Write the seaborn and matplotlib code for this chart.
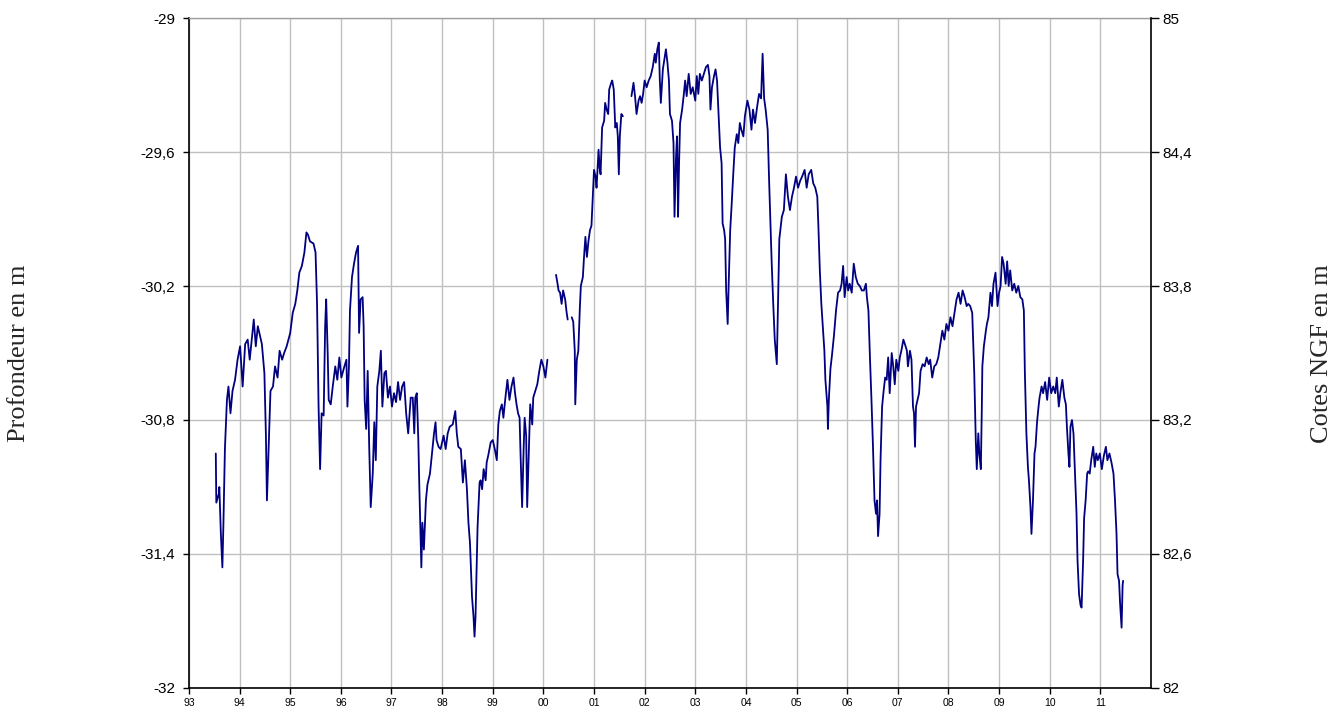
import pandas as pd
import numpy as np
import matplotlib
matplotlib.use('Agg')
import matplotlib.pyplot as plt
import seaborn as sns

# Piezometre : profondeur de la nappe (m), lue sur le graphique d'origine
# troncon 1 : mi-1993 -> debut 2000
annees_1 = [1993.53, 1993.54, 1993.59, 1993.60, 1993.63, 1993.66, 1993.68, 1993.71, 1993.75, 1993.78,
            1993.82, 1993.86, 1993.91, 1993.96, 1994.01, 1994.06, 1994.11, 1994.16, 1994.20, 1994.24,
            1994.28, 1994.32, 1994.36, 1994.39, 1994.44, 1994.49, 1994.52, 1994.54, 1994.57, 1994.61,
            1994.66, 1994.70, 1994.75, 1994.79, 1994.84, 1994.88, 1994.93, 1995.00, 1995.05, 1995.10,
            1995.14, 1995.18, 1995.23, 1995.28, 1995.32, 1995.35, 1995.39, 1995.46, 1995.50, 1995.53,
            1995.56, 1995.59, 1995.62, 1995.66, 1995.69, 1995.71, 1995.74, 1995.76, 1995.80, 1995.84,
            1995.89, 1995.93, 1995.97, 1996.01, 1996.07, 1996.11, 1996.13, 1996.16, 1996.18, 1996.22,
            1996.26, 1996.30, 1996.34, 1996.36, 1996.39, 1996.43, 1996.45, 1996.47, 1996.50, 1996.53,
            1996.56, 1996.59, 1996.63, 1996.66, 1996.69, 1996.72, 1996.76, 1996.79, 1996.82, 1996.86,
            1996.89, 1996.93, 1996.97, 1997.01, 1997.05, 1997.09, 1997.13, 1997.17, 1997.21, 1997.25,
            1997.29, 1997.33, 1997.38, 1997.42, 1997.45, 1997.47, 1997.50, 1997.53, 1997.55, 1997.59,
            1997.61, 1997.64, 1997.68, 1997.71, 1997.76, 1997.80, 1997.84, 1997.87, 1997.89, 1997.93,
            1997.97, 1998.03, 1998.07, 1998.11, 1998.15, 1998.21, 1998.26, 1998.29, 1998.32, 1998.37,
            1998.41, 1998.45, 1998.49, 1998.52, 1998.55, 1998.59, 1998.62, 1998.64, 1998.66, 1998.70,
            1998.74, 1998.76, 1998.79, 1998.82, 1998.86, 1998.88, 1998.91, 1998.96, 1999.00, 1999.04,
            1999.08, 1999.11, 1999.14, 1999.18, 1999.21, 1999.25, 1999.29, 1999.33, 1999.37, 1999.41,
            1999.44, 1999.47, 1999.50, 1999.53, 1999.55, 1999.58, 1999.61, 1999.63, 1999.66, 1999.68,
            1999.71, 1999.74, 1999.78, 1999.80, 1999.84, 1999.88, 1999.92, 1999.96, 2000.00, 2000.04,
            2000.08]
prof_1 = [-30.95, -31.17, -31.13, -31.10, -31.31, -31.46, -31.27, -30.93, -30.71, -30.65,
          -30.77, -30.67, -30.62, -30.53, -30.47, -30.65, -30.46, -30.44, -30.53, -30.44,
          -30.35, -30.47, -30.38, -30.41, -30.46, -30.59, -30.87, -31.16, -30.95, -30.67,
          -30.65, -30.56, -30.61, -30.49, -30.53, -30.50, -30.47, -30.41, -30.32, -30.28,
          -30.22, -30.14, -30.11, -30.05, -29.96, -29.97, -30.00, -30.01, -30.05, -30.28,
          -30.74, -31.02, -30.77, -30.78, -30.38, -30.26, -30.50, -30.71, -30.73, -30.65,
          -30.56, -30.62, -30.52, -30.61, -30.56, -30.53, -30.74, -30.56, -30.31, -30.16,
          -30.10, -30.05, -30.02, -30.41, -30.26, -30.25, -30.38, -30.71, -30.84, -30.58,
          -30.92, -31.19, -31.04, -30.81, -30.98, -30.65, -30.58, -30.49, -30.74, -30.59,
          -30.58, -30.70, -30.65, -30.74, -30.68, -30.72, -30.63, -30.71, -30.65, -30.63,
          -30.77, -30.86, -30.70, -30.70, -30.86, -30.70, -30.68, -30.89, -31.10, -31.46,
          -31.26, -31.38, -31.16, -31.09, -31.04, -30.95, -30.86, -30.81, -30.89, -30.92,
          -30.93, -30.87, -30.93, -30.86, -30.83, -30.82, -30.76, -30.86, -30.92, -30.93,
          -31.08, -30.98, -31.11, -31.26, -31.35, -31.59, -31.68, -31.77, -31.68, -31.28,
          -31.08, -31.07, -31.11, -31.02, -31.07, -30.99, -30.96, -30.90, -30.89, -30.93,
          -30.98, -30.82, -30.76, -30.73, -30.79, -30.70, -30.62, -30.71, -30.65, -30.61,
          -30.68, -30.73, -30.77, -30.79, -30.96, -31.19, -30.93, -30.79, -30.87, -31.19,
          -30.96, -30.73, -30.82, -30.70, -30.67, -30.64, -30.58, -30.53, -30.56, -30.61,
          -30.53]

# troncon 2 : printemps 2000
annees_2 = [2000.25, 2000.28, 2000.30, 2000.33, 2000.36, 2000.39, 2000.43, 2000.46, 2000.48]
prof_2 = [-30.15, -30.19, -30.22, -30.23, -30.28, -30.22, -30.26, -30.32, -30.35]

# troncon 3 : ete 2000 -> mi-2001
annees_3 = [2000.56, 2000.59, 2000.62, 2000.63, 2000.66, 2000.69, 2000.72, 2000.74, 2000.78, 2000.80,
            2000.83, 2000.86, 2000.89, 2000.92, 2000.95, 2000.97, 2001.00, 2001.03, 2001.05, 2001.09,
            2001.11, 2001.13, 2001.16, 2001.20, 2001.22, 2001.25, 2001.28, 2001.30, 2001.34, 2001.36,
            2001.39, 2001.42, 2001.45, 2001.47, 2001.49, 2001.51, 2001.54, 2001.57]
prof_3 = [-30.34, -30.36, -30.49, -30.73, -30.53, -30.49, -30.30, -30.20, -30.16, -30.08,
          -29.98, -30.07, -30.00, -29.95, -29.93, -29.83, -29.68, -29.71, -29.76, -29.59,
          -29.67, -29.70, -29.49, -29.46, -29.38, -29.41, -29.43, -29.32, -29.29, -29.28,
          -29.32, -29.49, -29.47, -29.53, -29.70, -29.53, -29.43, -29.44]

# troncon 4 : fin 2001 -> mi-2011
annees_4 = [2001.74, 2001.78, 2001.81, 2001.84, 2001.88, 2001.91, 2001.94, 2001.97, 2002.00, 2002.04,
            2002.08, 2002.12, 2002.16, 2002.20, 2002.22, 2002.25, 2002.28, 2002.30, 2002.32, 2002.36,
            2002.40, 2002.42, 2002.45, 2002.48, 2002.50, 2002.54, 2002.57, 2002.59, 2002.62, 2002.64,
            2002.66, 2002.68, 2002.70, 2002.74, 2002.77, 2002.80, 2002.83, 2002.87, 2002.91, 2002.95,
            2003.00, 2003.03, 2003.06, 2003.09, 2003.13, 2003.17, 2003.21, 2003.25, 2003.28, 2003.30,
            2003.33, 2003.37, 2003.40, 2003.43, 2003.46, 2003.49, 2003.52, 2003.54, 2003.57, 2003.59,
            2003.61, 2003.64, 2003.66, 2003.69, 2003.72, 2003.75, 2003.78, 2003.82, 2003.85, 2003.88,
            2003.91, 2003.95, 2003.98, 2004.03, 2004.07, 2004.11, 2004.14, 2004.18, 2004.22, 2004.26,
            2004.30, 2004.33, 2004.36, 2004.39, 2004.43, 2004.46, 2004.49, 2004.51, 2004.54, 2004.57,
            2004.61, 2004.63, 2004.66, 2004.68, 2004.71, 2004.75, 2004.79, 2004.83, 2004.87, 2004.91,
            2004.95, 2004.99, 2005.03, 2005.07, 2005.11, 2005.16, 2005.20, 2005.24, 2005.29, 2005.33,
            2005.37, 2005.41, 2005.43, 2005.46, 2005.49, 2005.51, 2005.55, 2005.57, 2005.61, 2005.62,
            2005.64, 2005.67, 2005.70, 2005.74, 2005.78, 2005.82, 2005.86, 2005.89, 2005.92, 2005.95,
            2005.99, 2006.02, 2006.05, 2006.09, 2006.13, 2006.17, 2006.21, 2006.25, 2006.29, 2006.33,
            2006.37, 2006.39, 2006.42, 2006.45, 2006.48, 2006.51, 2006.54, 2006.57, 2006.59, 2006.61,
            2006.64, 2006.66, 2006.69, 2006.72, 2006.75, 2006.78, 2006.81, 2006.84, 2006.88, 2006.91,
            2006.94, 2006.97, 2007.01, 2007.04, 2007.07, 2007.11, 2007.14, 2007.18, 2007.20, 2007.24,
            2007.27, 2007.30, 2007.32, 2007.34, 2007.36, 2007.39, 2007.42, 2007.45, 2007.49, 2007.53,
            2007.57, 2007.61, 2007.64, 2007.68, 2007.72, 2007.76, 2007.80, 2007.84, 2007.88, 2007.92,
            2007.96, 2008.00, 2008.04, 2008.08, 2008.12, 2008.16, 2008.20, 2008.24, 2008.28, 2008.32,
            2008.36, 2008.39, 2008.43, 2008.47, 2008.51, 2008.54, 2008.56, 2008.59, 2008.61, 2008.64,
            2008.66, 2008.67, 2008.70, 2008.74, 2008.76, 2008.79, 2008.83, 2008.86, 2008.89, 2008.93,
            2008.97, 2009.00, 2009.03, 2009.06, 2009.09, 2009.13, 2009.16, 2009.19, 2009.22, 2009.26,
            2009.30, 2009.34, 2009.38, 2009.42, 2009.46, 2009.49, 2009.51, 2009.54, 2009.57, 2009.59,
            2009.62, 2009.64, 2009.67, 2009.70, 2009.72, 2009.75, 2009.78, 2009.80, 2009.84, 2009.87,
            2009.91, 2009.95, 2009.99, 2010.03, 2010.07, 2010.11, 2010.14, 2010.18, 2010.21, 2010.25,
            2010.29, 2010.32, 2010.34, 2010.37, 2010.39, 2010.41, 2010.44, 2010.47, 2010.50, 2010.53,
            2010.55, 2010.58, 2010.61, 2010.63, 2010.66, 2010.68, 2010.71, 2010.74, 2010.76, 2010.79,
            2010.82, 2010.86, 2010.89, 2010.92, 2010.95, 2010.99, 2011.03, 2011.07, 2011.11, 2011.14,
            2011.18, 2011.22, 2011.26, 2011.29, 2011.32, 2011.34, 2011.37, 2011.39, 2011.42, 2011.44,
            2011.45]
prof_4 = [-29.35, -29.29, -29.35, -29.43, -29.37, -29.35, -29.38, -29.34, -29.28, -29.31,
          -29.28, -29.26, -29.22, -29.16, -29.20, -29.14, -29.11, -29.28, -29.38, -29.23,
          -29.17, -29.14, -29.20, -29.28, -29.43, -29.46, -29.56, -29.89, -29.62, -29.53,
          -29.89, -29.65, -29.47, -29.41, -29.35, -29.28, -29.35, -29.25, -29.34, -29.31,
          -29.37, -29.26, -29.34, -29.25, -29.28, -29.25, -29.22, -29.21, -29.26, -29.41,
          -29.31, -29.26, -29.23, -29.28, -29.43, -29.58, -29.65, -29.92, -29.95, -29.99,
          -30.22, -30.37, -30.19, -29.95, -29.83, -29.70, -29.58, -29.52, -29.56, -29.47,
          -29.50, -29.53, -29.44, -29.37, -29.41, -29.50, -29.41, -29.47, -29.40, -29.34,
          -29.36, -29.16, -29.36, -29.41, -29.50, -29.74, -29.95, -30.10, -30.28, -30.44,
          -30.55, -30.32, -29.99, -29.95, -29.89, -29.86, -29.70, -29.80, -29.86, -29.80,
          -29.76, -29.71, -29.76, -29.73, -29.71, -29.68, -29.76, -29.70, -29.68, -29.74,
          -29.76, -29.80, -29.92, -30.13, -30.28, -30.35, -30.49, -30.62, -30.74, -30.84,
          -30.70, -30.57, -30.51, -30.42, -30.31, -30.23, -30.22, -30.19, -30.11, -30.25,
          -30.16, -30.22, -30.19, -30.23, -30.10, -30.16, -30.19, -30.20, -30.22, -30.22,
          -30.19, -30.25, -30.31, -30.52, -30.71, -30.92, -31.16, -31.22, -31.16, -31.32,
          -31.22, -30.97, -30.74, -30.67, -30.61, -30.62, -30.52, -30.68, -30.50, -30.56,
          -30.64, -30.53, -30.58, -30.52, -30.49, -30.44, -30.46, -30.49, -30.56, -30.49,
          -30.53, -30.74, -30.77, -30.92, -30.74, -30.71, -30.68, -30.58, -30.55, -30.56,
          -30.52, -30.55, -30.53, -30.61, -30.56, -30.55, -30.52, -30.46, -30.40, -30.44,
          -30.37, -30.40, -30.34, -30.38, -30.32, -30.26, -30.23, -30.28, -30.22, -30.25,
          -30.29, -30.28, -30.29, -30.32, -30.59, -30.89, -31.02, -30.86, -30.95, -31.02,
          -30.74, -30.56, -30.47, -30.40, -30.37, -30.34, -30.23, -30.29, -30.19, -30.14,
          -30.29, -30.23, -30.20, -30.07, -30.10, -30.19, -30.09, -30.20, -30.13, -30.22,
          -30.19, -30.23, -30.20, -30.25, -30.26, -30.31, -30.59, -30.86, -31.01, -31.07,
          -31.19, -31.31, -31.16, -30.95, -30.92, -30.81, -30.74, -30.70, -30.65, -30.68,
          -30.63, -30.71, -30.61, -30.68, -30.65, -30.68, -30.61, -30.74, -30.68, -30.62,
          -30.70, -30.73, -30.83, -30.95, -31.01, -30.83, -30.80, -30.86, -31.04, -31.22,
          -31.43, -31.58, -31.63, -31.64, -31.43, -31.24, -31.16, -31.04, -31.03, -31.04,
          -30.98, -30.92, -31.01, -30.95, -30.98, -30.95, -31.02, -30.96, -30.92, -30.98,
          -30.95, -30.99, -31.04, -31.16, -31.31, -31.49, -31.52, -31.62, -31.73, -31.54,
          -31.52]

# axes
annees_ticks = list(range(1993, 2012))
annees_labels = ['93', '94', '95', '96', '97', '98', '99', '00', '01', '02',
                 '03', '04', '05', '06', '07', '08', '09', '10', '11']
prof_ticks = [-32, -31.4, -30.8, -30.2, -29.6, -29]
prof_labels = ['-32', '-31,4', '-30,8', '-30,2', '-29,6', '-29']
cote_ticks = [82, 82.6, 83.2, 83.8, 84.4, 85]
cote_labels = ['82', '82,6', '83,2', '83,8', '84,4', '85']

frames = []
for i, (a, p) in enumerate([(annees_1, prof_1), (annees_2, prof_2),
                            (annees_3, prof_3), (annees_4, prof_4)]):
    frames.append(pd.DataFrame({'annee': a, 'profondeur': p, 'troncon': i}))
df = pd.concat(frames, ignore_index=True)

sns.set_style('ticks')
plt.rcParams['font.family'] = ['Liberation Sans', 'DejaVu Sans']

fig, ax = plt.subplots(figsize=(13.43, 7.15), dpi=100)
fig.subplots_adjust(left=0.1407, right=0.857, bottom=0.0378, top=0.9748)

sns.lineplot(data=df, x='annee', y='profondeur', units='troncon', estimator=None,
             color='#000080', linewidth=1.3, ax=ax, legend=False)

ax.set_xlim(1993, 2012)
ax.set_ylim(-32, -29)
ax.set_xticks(annees_ticks)
ax.set_xticklabels(annees_labels, fontsize=7.5)
ax.set_yticks(prof_ticks)
ax.set_yticklabels(prof_labels, fontsize=11)
ax.set_xlabel('')
ax.set_ylabel('')
ax.grid(True, color='#c0c0c0', linewidth=1)
ax.set_axisbelow(True)
ax.tick_params(axis='y', direction='out', length=4, width=1, pad=6, colors='black')
ax.tick_params(axis='x', direction='out', length=4, width=1, pad=3, colors='black')
for s in ['left', 'bottom']:
    ax.spines[s].set_color('black')
    ax.spines[s].set_linewidth(1.2)
ax.spines['top'].set_color('#a0a0a0')
ax.spines['top'].set_linewidth(1)
ax.spines['right'].set_visible(False)

ax2 = ax.twinx()
ax2.set_ylim(82, 85)
ax2.set_yticks(cote_ticks)
ax2.set_yticklabels(cote_labels, fontsize=11)
ax2.tick_params(axis='y', direction='out', length=6, width=1, pad=2, colors='black')
for s in ['left', 'top', 'bottom']:
    ax2.spines[s].set_visible(False)
ax2.spines['right'].set_color('black')
ax2.spines['right'].set_linewidth(1.2)

fig.text(19 / 1343, 0.506, 'Profondeur en m', rotation=90, ha='center', va='center',
         fontsize=19, family=['Liberation Serif', 'DejaVu Serif'])
fig.text(1322 / 1343, 0.506, 'Cotes NGF en m', rotation=90, ha='center', va='center',
         fontsize=19, family=['Liberation Serif', 'DejaVu Serif'])

plt.savefig('out.png', dpi=100)
